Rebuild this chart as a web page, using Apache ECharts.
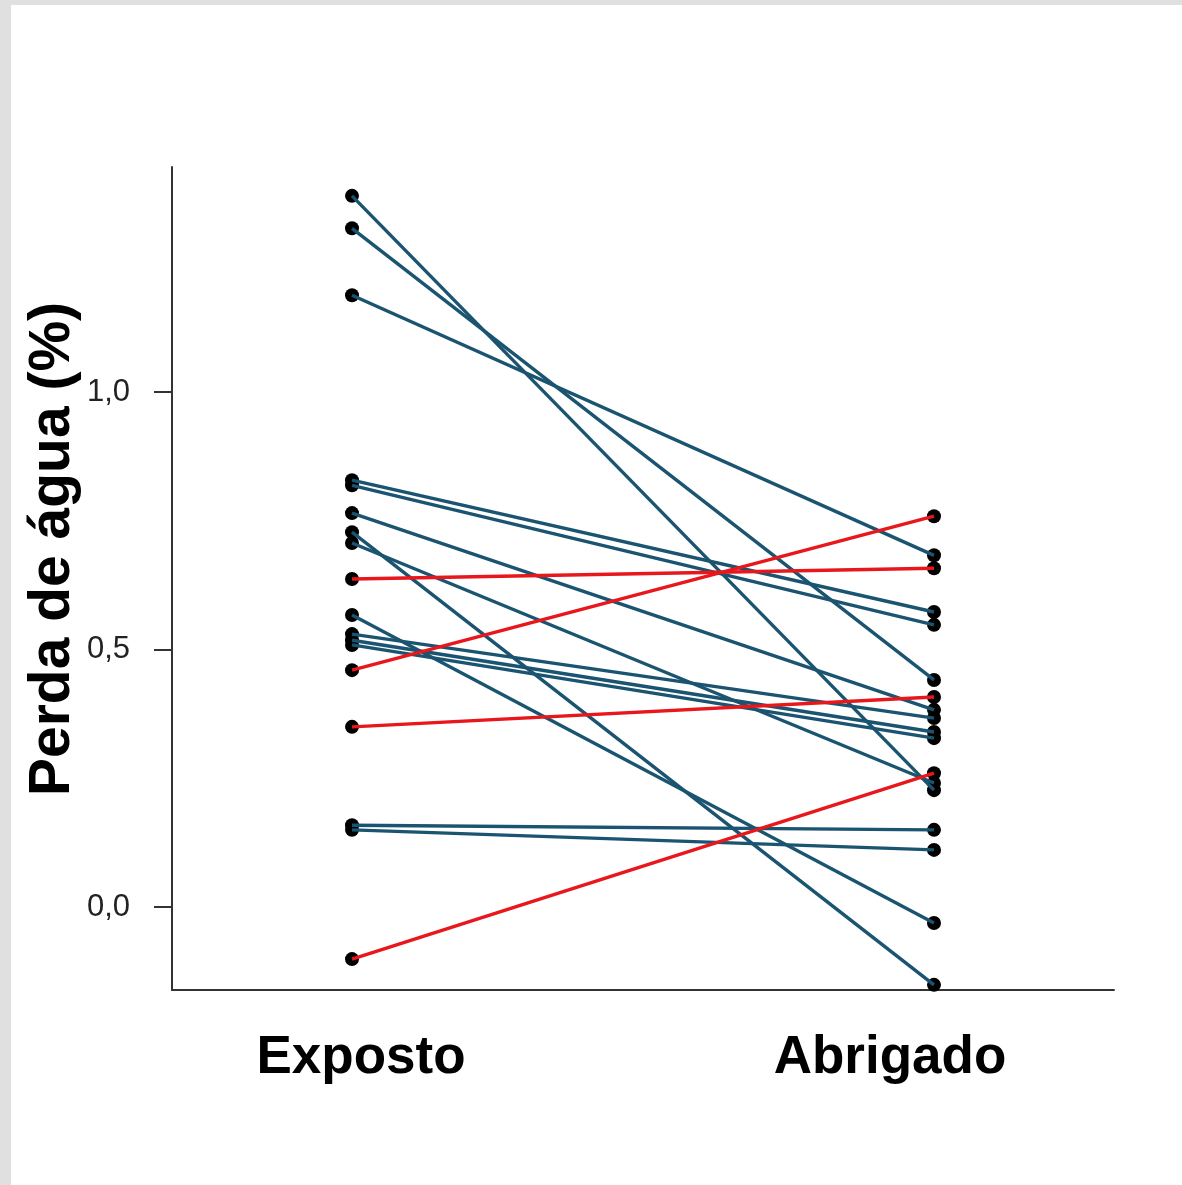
<!DOCTYPE html>
<html>
<head>
<meta charset="utf-8">
<script src="https://cdn.jsdelivr.net/npm/echarts@6/dist/echarts.min.js"></script>
<style>
  html, body { margin: 0; padding: 0; background: #ffffff; }
  #chart { width: 1182px; height: 1185px; }
</style>
</head>
<body>
<div id="chart"></div>
<script>
// Categories (x positions 1 and 2)
const categories = ['Exposto', 'Abrigado'];
// Paired values: Exposto -> Abrigado (water loss, %)
const exposto  = [1.381, 1.318, 1.188, 0.829, 0.819, 0.765, 0.728, 0.707, 0.567, 0.530, 0.518, 0.509, 0.159, 0.150, 0.637, 0.460, 0.350, -0.101];
const abrigado = [0.227, 0.441, 0.683, 0.573, 0.548, 0.383, -0.151, 0.241, -0.031, 0.367, 0.340, 0.328, 0.150, 0.111, 0.658, 0.759, 0.408, 0.260];
// Y axis tick values
const yTicks = [0, 0.5, 1.0];
const yTitle = 'Perda de água (%)';

const BLUE = '#1a5470';
const RED = '#e8171c';
const FONT = '"Liberation Sans", Arial, sans-serif';

const lineSeries = exposto.map((e, i) => ({
  type: 'line',
  data: [[1, e], [2, abrigado[i]]],
  showSymbol: false,
  symbol: 'none',
  silent: true,
  z: 3,
  lineStyle: { color: abrigado[i] > e ? RED : BLUE, width: 3.4 }
}));

const pointData = [];
exposto.forEach((e, i) => { pointData.push([1, e]); pointData.push([2, abrigado[i]]); });

const chart = echarts.init(document.getElementById('chart'), null, { renderer: 'canvas' });
chart.setOption({
  animation: false,
  backgroundColor: '#ffffff',
  grid: { left: 172, top: 167, right: 68, bottom: 195 },
  xAxis: {
    type: 'value',
    min: 0.6907,
    max: 2.3093,
    axisLine: { show: true, onZero: false, lineStyle: { color: '#333333', width: 2 } },
    axisTick: { show: false },
    axisLabel: { show: false },
    splitLine: { show: false }
  },
  yAxis: {
    type: 'value',
    min: -0.161,
    max: 1.437,
    axisLine: { show: true, onZero: false, lineStyle: { color: '#333333', width: 2 } },
    axisTick: { show: true, length: 18, customValues: yTicks, lineStyle: { color: '#333333', width: 2 } },
    axisLabel: {
      customValues: yTicks,
      formatter: v => Number(v).toFixed(1).replace('.', ','),
      fontSize: 31,
      color: '#222222',
      fontFamily: FONT,
      margin: 42
    },
    splitLine: { show: false }
  },
  graphic: [
    { type: 'rect', shape: { x: 0, y: 0, width: 1182, height: 5 }, style: { fill: '#e0e0e0' }, silent: true },
    { type: 'rect', shape: { x: 0, y: 0, width: 11, height: 1185 }, style: { fill: '#e0e0e0' }, silent: true },
    { type: 'text', x: 53, y: 549, rotation: Math.PI / 2,
      style: { text: yTitle, fill: '#000000', fontSize: 57, fontWeight: 'bold', fontFamily: FONT, textAlign: 'center', textVerticalAlign: 'middle' } },
    { type: 'text', x: 361, y: 1058,
      style: { text: categories[0], fill: '#000000', fontSize: 53, fontWeight: 'bold', fontFamily: FONT, textAlign: 'center', textVerticalAlign: 'middle' } },
    { type: 'text', x: 890, y: 1058,
      style: { text: categories[1], fill: '#000000', fontSize: 53, fontWeight: 'bold', fontFamily: FONT, textAlign: 'center', textVerticalAlign: 'middle' } }
  ],
  series: [
    {
      type: 'scatter',
      data: pointData,
      symbol: 'circle',
      symbolSize: 14,
      silent: true,
      z: 2,
      itemStyle: { color: '#000000', opacity: 1 }
    }
  ].concat(lineSeries)
});
</script>
</body>
</html>
